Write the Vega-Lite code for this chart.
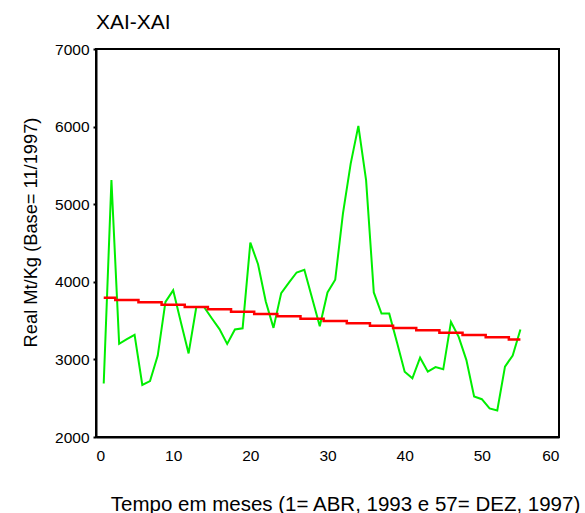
{
  "$schema": "https://vega.github.io/schema/vega-lite/v6.json",
  "width": 463,
  "height": 388,
  "autosize": "none",
  "padding": {"left": 96, "top": 49, "right": 26, "bottom": 76},
  "background": "white",
  "config": {
    "font": "Liberation Sans",
    "view": {"stroke": "black", "strokeWidth": 2},
    "axis": {"grid": false, "domainColor": "black", "domainWidth": 2, "tickColor": "black", "labelColor": "black", "titleColor": "black", "labelFont": "Liberation Sans", "titleFont": "Liberation Sans", "titleFontWeight": "normal"}
  },
  "title": {"text": "XAI-XAI", "anchor": "start", "frame": "group", "fontSize": 21, "fontWeight": "normal", "font": "Liberation Sans", "color": "black", "baseline": "alphabetic", "offset": -8},
  "datasets": {
    "obs": [
      {"t": 1, "v": 2690}, {"t": 2, "v": 5310}, {"t": 3, "v": 3200}, {"t": 4, "v": 3260}, {"t": 5, "v": 3317},
      {"t": 6, "v": 2670}, {"t": 7, "v": 2720}, {"t": 8, "v": 3050}, {"t": 9, "v": 3740}, {"t": 10, "v": 3890},
      {"t": 11, "v": 3480}, {"t": 12, "v": 3077}, {"t": 13, "v": 3675}, {"t": 14, "v": 3675}, {"t": 15, "v": 3530},
      {"t": 16, "v": 3390}, {"t": 17, "v": 3200}, {"t": 18, "v": 3385}, {"t": 19, "v": 3400}, {"t": 20, "v": 4504},
      {"t": 21, "v": 4227}, {"t": 22, "v": 3747}, {"t": 23, "v": 3406}, {"t": 24, "v": 3855}, {"t": 25, "v": 3990},
      {"t": 26, "v": 4120}, {"t": 27, "v": 4154}, {"t": 28, "v": 3790}, {"t": 29, "v": 3427}, {"t": 30, "v": 3863},
      {"t": 31, "v": 4026}, {"t": 32, "v": 4880}, {"t": 33, "v": 5520}, {"t": 34, "v": 6010}, {"t": 35, "v": 5310},
      {"t": 36, "v": 3863}, {"t": 37, "v": 3590}, {"t": 38, "v": 3590}, {"t": 39, "v": 3220}, {"t": 40, "v": 2842},
      {"t": 41, "v": 2756}, {"t": 42, "v": 3022}, {"t": 43, "v": 2842}, {"t": 44, "v": 2901}, {"t": 45, "v": 2872},
      {"t": 46, "v": 3483}, {"t": 47, "v": 3291}, {"t": 48, "v": 2991}, {"t": 49, "v": 2522}, {"t": 50, "v": 2487},
      {"t": 51, "v": 2368}, {"t": 52, "v": 2342}, {"t": 53, "v": 2906}, {"t": 54, "v": 3051}, {"t": 55, "v": 3385}
    ],
    "trend": [
      {"t": 1, "v": 3795}, {"t": 2, "v": 3795}, {"t": 3, "v": 3765}, {"t": 4, "v": 3765}, {"t": 5, "v": 3765},
      {"t": 6, "v": 3735}, {"t": 7, "v": 3735}, {"t": 8, "v": 3735}, {"t": 9, "v": 3705}, {"t": 10, "v": 3705},
      {"t": 11, "v": 3705}, {"t": 12, "v": 3675}, {"t": 13, "v": 3675}, {"t": 14, "v": 3675}, {"t": 15, "v": 3645},
      {"t": 16, "v": 3645}, {"t": 17, "v": 3645}, {"t": 18, "v": 3615}, {"t": 19, "v": 3615}, {"t": 20, "v": 3615},
      {"t": 21, "v": 3585}, {"t": 22, "v": 3585}, {"t": 23, "v": 3585}, {"t": 24, "v": 3555}, {"t": 25, "v": 3555},
      {"t": 26, "v": 3555}, {"t": 27, "v": 3525}, {"t": 28, "v": 3525}, {"t": 29, "v": 3525}, {"t": 30, "v": 3495},
      {"t": 31, "v": 3495}, {"t": 32, "v": 3495}, {"t": 33, "v": 3465}, {"t": 34, "v": 3465}, {"t": 35, "v": 3465},
      {"t": 36, "v": 3435}, {"t": 37, "v": 3435}, {"t": 38, "v": 3435}, {"t": 39, "v": 3405}, {"t": 40, "v": 3405},
      {"t": 41, "v": 3405}, {"t": 42, "v": 3375}, {"t": 43, "v": 3375}, {"t": 44, "v": 3375}, {"t": 45, "v": 3345},
      {"t": 46, "v": 3345}, {"t": 47, "v": 3345}, {"t": 48, "v": 3315}, {"t": 49, "v": 3315}, {"t": 50, "v": 3315},
      {"t": 51, "v": 3285}, {"t": 52, "v": 3285}, {"t": 53, "v": 3285}, {"t": 54, "v": 3255}, {"t": 55, "v": 3255}
    ]
  },
  "encoding": {
    "x": {"field": "t", "type": "quantitative", "scale": {"domain": [0, 60], "nice": false, "zero": false},
      "axis": {"values": [0, 10, 20, 30, 40, 50, 60], "format": "d", "title": "Tempo em meses (1= ABR, 1993 e 57= DEZ, 1997)", "labelFontSize": 15.5, "tickSize": 0, "labelPadding": 11, "titleFontSize": 20.5, "titleAnchor": "start", "titleAlign": "center", "titleBaseline": "alphabetic", "titleX": 249, "titleY": 73}},
    "y": {"field": "v", "type": "quantitative", "scale": {"domain": [2000, 7000], "nice": false, "zero": false},
      "axis": {"values": [2000, 3000, 4000, 5000, 6000, 7000], "format": "d", "title": "Real Mt/Kg (Base= 11/1997)", "labelFontSize": 15.5, "tickSize": 3, "tickWidth": 2, "labelPadding": 4, "titleFontSize": 18.3, "titleAnchor": "start", "titleAlign": "center", "titleBaseline": "middle", "titleAngle": -90, "titleX": -65, "titleY": 183}}
  },
  "layer": [
    {"data": {"name": "obs"}, "mark": {"type": "line", "color": "#00ee00", "strokeWidth": 2}},
    {"data": {"name": "trend"}, "mark": {"type": "line", "color": "#ff0000", "strokeWidth": 2.5, "interpolate": "step"}}
  ]
}
